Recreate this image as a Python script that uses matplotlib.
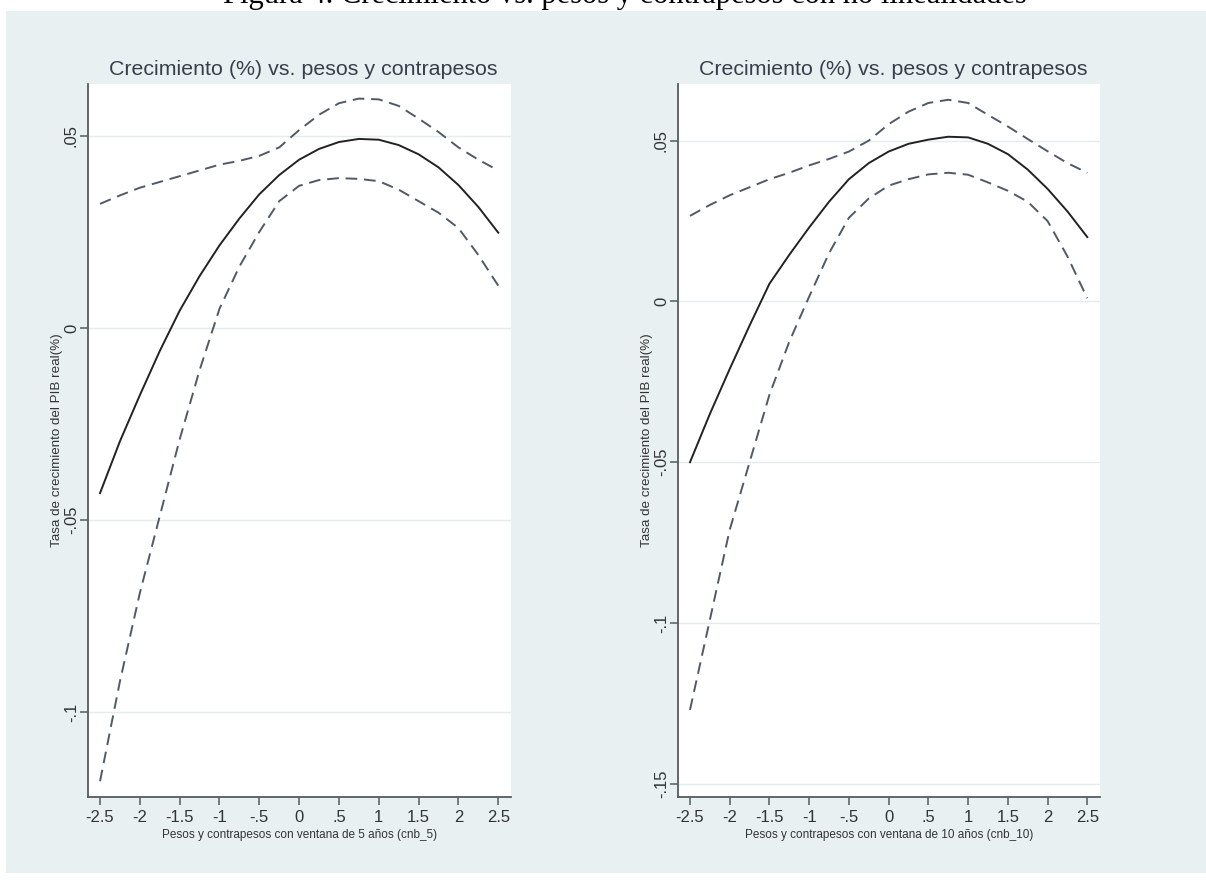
"""Growth vs. checks and balances: quadratic fit with confidence bands (two windows)."""

import matplotlib.pyplot as plt
from matplotlib.patches import Rectangle
from matplotlib.ticker import FuncFormatter

# Evaluation grid on the x axis (checks-and-balances index)
cnb_grid = [-2.5, -2.25, -2.0, -1.75, -1.5, -1.25, -1.0, -0.75, -0.5, -0.25, 0.0,
            0.25, 0.5, 0.75, 1.0, 1.25, 1.5, 1.75, 2.0, 2.25, 2.5]

# 5-year window (cnb_5)
fit_5 = [-0.043, -0.0295, -0.0175, -0.006, 0.0045, 0.0135, 0.0215, 0.0285, 0.0348, 0.0398, 0.0438,
         0.0466, 0.0484, 0.0492, 0.049, 0.0476, 0.0452, 0.0418, 0.0372, 0.0315, 0.0248]
upper_5 = [0.0323, 0.0345, 0.0365, 0.038, 0.0395, 0.041, 0.0425, 0.0435, 0.0448, 0.047, 0.0515,
           0.0555, 0.0585, 0.0597, 0.0595, 0.0578, 0.0545, 0.051, 0.047, 0.0438, 0.041]
lower_5 = [-0.118, -0.092, -0.069, -0.049, -0.029, -0.011, 0.005, 0.016, 0.025, 0.033, 0.037,
           0.0385, 0.039, 0.0388, 0.0382, 0.036, 0.033, 0.030, 0.026, 0.019, 0.011]

# 10-year window (cnb_10)
fit_10 = [-0.050, -0.035, -0.021, -0.0075, 0.0055, 0.0145, 0.023, 0.031, 0.038, 0.043, 0.0466,
          0.049, 0.0503, 0.0512, 0.051, 0.049, 0.0458, 0.041, 0.035, 0.028, 0.020]
upper_10 = [0.0266, 0.030, 0.033, 0.0355, 0.038, 0.040, 0.0423, 0.0443, 0.0466, 0.050, 0.0551,
            0.059, 0.0617, 0.0627, 0.0617, 0.058, 0.0544, 0.0505, 0.0467, 0.043, 0.040]
lower_10 = [-0.127, -0.099, -0.071, -0.050, -0.029, -0.0125, 0.0015, 0.015, 0.026, 0.032, 0.036,
            0.038, 0.0395, 0.040, 0.0394, 0.037, 0.0344, 0.031, 0.025, 0.014, 0.001]

x_ticks = [-2.5, -2, -1.5, -1, -0.5, 0, 0.5, 1, 1.5, 2, 2.5]
y_ticks_5 = [-0.1, -0.05, 0, 0.05]
y_ticks_10 = [-0.15, -0.1, -0.05, 0, 0.05]

panel_title = "Crecimiento (%) vs. pesos y contrapesos"
y_label = "Tasa de crecimiento del PIB real(%)"
x_label_5 = "Pesos y contrapesos con ventana de 5 años (cnb_5)"
x_label_10 = "Pesos y contrapesos con ventana de 10 años (cnb_10)"
caption = "Figura 4. Crecimiento vs. pesos y contrapesos con no linealidades"

REGION = "#E9F0F2"
GRID = "#E4ECEE"
AXIS = "#555b60"
TITLE = "#36404c"
DASH = "#505a66"
FONT = ["Liberation Sans", "DejaVu Sans"]


def stata_number(value, _pos=None):
    if abs(value) < 1e-12:
        return "0"
    text = f"{value:g}"
    return text.replace("0.", ".")


def draw_panel(figure, rect, fit, upper, lower, y_ticks, ylim, x_label):
    axis = figure.add_axes(rect)
    axis.set_facecolor("white")
    axis.plot(cnb_grid, upper, color=DASH, linewidth=1.4, linestyle=(0, (6, 3.5)))
    axis.plot(cnb_grid, lower, color=DASH, linewidth=1.4, linestyle=(0, (6, 3.5)))
    axis.plot(cnb_grid, fit, color="#222222", linewidth=1.4)

    axis.set_xlim(-2.651, 2.66)
    axis.set_ylim(*ylim)
    axis.set_xticks(x_ticks)
    axis.set_yticks(y_ticks)
    axis.xaxis.set_major_formatter(FuncFormatter(stata_number))
    axis.yaxis.set_major_formatter(FuncFormatter(stata_number))
    axis.grid(axis="y", color=GRID, linewidth=1.0)
    axis.set_axisbelow(True)

    for side in ("top", "right"):
        axis.spines[side].set_visible(False)
    for side in ("left", "bottom"):
        axis.spines[side].set_color(AXIS)
        axis.spines[side].set_linewidth(1.3)
    axis.tick_params(direction="out", length=6, width=1.1, color=AXIS,
                     labelsize=12, labelcolor="#333333")
    axis.tick_params(axis="y", pad=0.5)
    for label in axis.get_yticklabels():
        label.set_rotation(90)
        label.set_va("center")
        label.set_family(FONT)
    for label in axis.get_xticklabels():
        label.set_family(FONT)

    axis.set_xlabel(x_label, fontsize=8.5, color="#333333", family=FONT, labelpad=3)
    axis.set_ylabel(y_label, fontsize=9.6, color="#333333", family=FONT, labelpad=1)
    axis.text(0.05, 1.007, panel_title, transform=axis.transAxes, fontsize=15.4,
              color=TITLE, family=FONT, ha="left", va="bottom")
    return axis


figure = plt.figure(figsize=(12.06, 8.84), dpi=100, facecolor="white")
figure.patches.append(Rectangle((6 / 1206, 11 / 884), 1200 / 1206, 862 / 884,
                                transform=figure.transFigure, facecolor=REGION,
                                edgecolor="none", zorder=-10))

draw_panel(figure, [88 / 1206, 87 / 884, 423 / 1206, 713 / 884],
           fit_5, upper_5, lower_5, y_ticks_5, (-0.1221, 0.0635), x_label_5)
draw_panel(figure, [678 / 1206, 87 / 884, 422 / 1206, 713 / 884],
           fit_10, upper_10, lower_10, y_ticks_10, (-0.1541, 0.0676), x_label_10)

# caption sits mostly above the top edge, as in the source scan
figure.text(0.518, 1 - 3 / 884, caption, fontsize=22, family=["Liberation Serif", "DejaVu Serif"],
            ha="center", va="baseline", color="black", zorder=-20)

figure.savefig("out.png", dpi=100, facecolor="white")
plt.close(figure)
